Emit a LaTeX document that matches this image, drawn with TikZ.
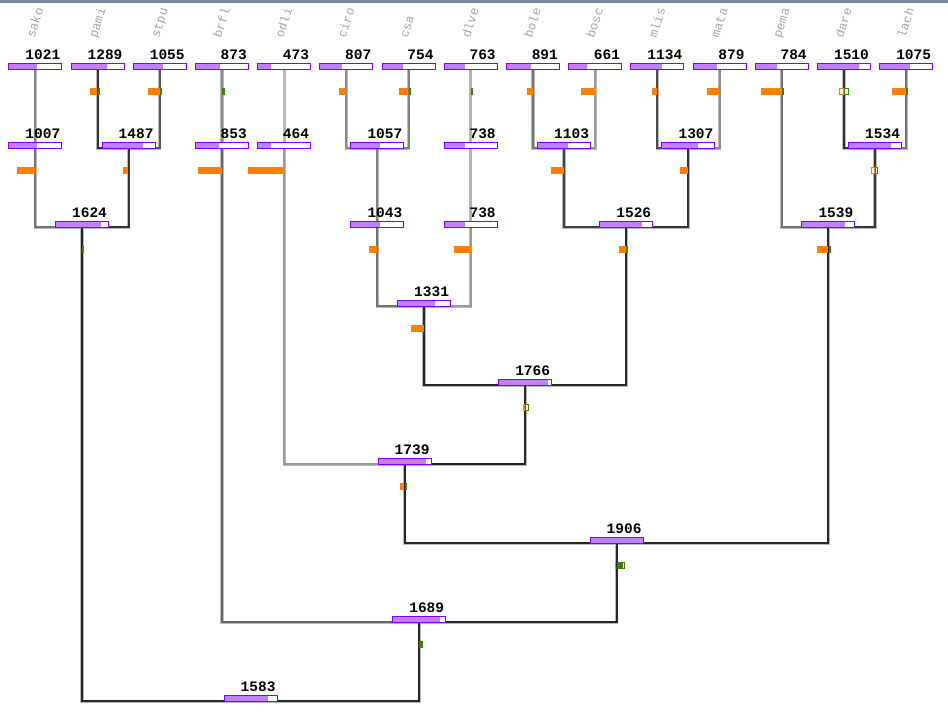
\documentclass[tikz,border=0pt]{standalone}
\usepackage{fontspec}
\newfontfamily\numfont{Liberation Mono}
\usetikzlibrary{backgrounds}

\definecolor{boxline}{RGB}{128,0,255}
\definecolor{boxfill}{RGB}{192,128,255}
\definecolor{orangebar}{RGB}{255,128,0}
\definecolor{greenbar}{RGB}{64,128,0}
\definecolor{topbar}{RGB}{122,134,150}
\definecolor{leaftext}{RGB}{165,165,165}

\begin{document}
\begin{tikzpicture}[x=1pt, y=-1pt,
  box/.style={rectangle, draw=boxline, fill=white, line width=0.9pt, minimum width=53pt, minimum height=6.2pt, inner sep=0pt},
  score/.style={label={[num]north east:#1}, path picture={\fill[boxfill] (path picture bounding box.south west) rectangle ([xshift=#1/1906*53pt]path picture bounding box.north west);}},
  num/.style={anchor=south east, inner sep=0pt, xshift=-1.8pt, yshift=3pt, font=\numfont\bfseries\fontsize{14.5}{15}\selectfont},
  leaf/.style={rotate=72, anchor=base west, inner sep=0pt, text=leaftext, font=\numfont\fontsize{12.5}{12.5}\selectfont},
  obar/.style={rectangle, fill=orangebar, inner sep=0pt, minimum height=6.8pt, minimum width=#1, anchor=east},
  gbar/.style={rectangle, fill=greenbar, inner sep=0pt, minimum height=6.8pt, minimum width=#1, anchor=west},
  obarh/.style={obar=#1, fill=white, draw=orangebar, line width=0.8pt, minimum height=6pt},
  gbarh/.style={gbar=#1, fill=white, draw=greenbar, line width=0.8pt, minimum height=6pt},
  branch/.style={draw=black!28, double=#1, double distance=2pt, line width=0.6pt}
]
\useasboundingbox (0,0) rectangle (948,724);
\fill[topbar] (0,0) rectangle (948,2.5);

% leaf names
\node[leaf] (t-sako) at (34.3,38.5) {sako};
\node[leaf] (t-pami) at (96.5,38.5) {pami};
\node[leaf] (t-stpu) at (158.7,38.5) {stpu};
\node[leaf] (t-brfl) at (220.9,38.5) {brfl};
\node[leaf] (t-odli) at (283.1,38.5) {odli};
\node[leaf] (t-ciro) at (345.3,38.5) {ciro};
\node[leaf] (t-csa) at (407.5,38.5) {csa};
\node[leaf] (t-dlve) at (469.7,38.5) {dlve};
\node[leaf] (t-bole) at (531.9,38.5) {bole};
\node[leaf] (t-bosc) at (594.1,38.5) {bosc};
\node[leaf] (t-mlis) at (656.3,38.5) {mlis};
\node[leaf] (t-mata) at (718.5,38.5) {mata};
\node[leaf] (t-pema) at (780.7,38.5) {pema};
\node[leaf] (t-dare) at (842.9,38.5) {dare};
\node[leaf] (t-lach) at (905.1,38.5) {lach};

% leaves
\node[box, score=1021] (sako) at (35.3,66.8) {};
\node[box, score=1289] (pami) at (97.5,66.8) {};
\node[box, score=1055] (stpu) at (159.7,66.8) {};
\node[box, score=873] (brfl) at (221.9,66.8) {};
\node[box, score=473] (odli) at (284.1,66.8) {};
\node[box, score=807] (ciro) at (346.3,66.8) {};
\node[box, score=754] (csa) at (408.5,66.8) {};
\node[box, score=763] (dlve) at (470.7,66.8) {};
\node[box, score=891] (bole) at (532.9,66.8) {};
\node[box, score=661] (bosc) at (595.1,66.8) {};
\node[box, score=1134] (mlis) at (657.3,66.8) {};
\node[box, score=879] (mata) at (719.5,66.8) {};
\node[box, score=784] (pema) at (781.7,66.8) {};
\node[box, score=1510] (dare) at (843.9,66.8) {};
\node[box, score=1075] (lach) at (906.1,66.8) {};

% first merge level
\node[box, score=1007] (n1007) at (35.3,145.8) {};
\node[box, score=1487] (n1487) at (128.6,145.8) {};
\node[box, score=853] (n853) at (221.9,145.8) {};
\node[box, score=464] (n464) at (284.1,145.8) {};
\node[box, score=1057] (n1057) at (377.4,145.8) {};
\node[box, score=738] (n738a) at (470.7,145.8) {};
\node[box, score=1103] (n1103) at (564,145.8) {};
\node[box, score=1307] (n1307) at (688.4,145.8) {};
\node[box, score=1534] (n1534) at (875,145.8) {};

% second merge level
\node[box, score=1624] (n1624) at (82,224.8) {};
\node[box, score=1043] (n1043) at (377.4,224.8) {};
\node[box, score=738] (n738b) at (470.7,224.8) {};
\node[box, score=1526] (n1526) at (626.2,224.8) {};
\node[box, score=1539] (n1539) at (828.35,224.8) {};

% deeper levels
\node[box, score=1331] (n1331) at (424.05,303.8) {};
\node[box, score=1766] (n1766) at (525.1,382.8) {};
\node[box, score=1739] (n1739) at (404.6,461.8) {};
\node[box, score=1906] (n1906) at (616.5,540.8) {};
\node[box, score=1689] (n1689) at (419.2,619.8) {};
\node[box, score=1583] (n1583) at (250.6,698.8) {};

% support marks on the branches
\node[obar=7pt] (o-pami) at ([yshift=-25pt]pami.center) {};
\node[gbar=2.3pt] (g-pami) at ([yshift=-25pt]pami.center) {};
\node[obar=12pt] (o-stpu) at ([yshift=-25pt]stpu.center) {};
\node[gbar=2pt] (g-stpu) at ([yshift=-25pt]stpu.center) {};
\node[gbar=2.5pt] (g-brfl) at ([yshift=-25pt]brfl.center) {};
\node[obar=7.5pt] (o-ciro) at ([yshift=-25pt]ciro.center) {};
\node[obar=9pt] (o-csa) at ([yshift=-25pt]csa.center) {};
\node[gbar=2pt] (g-csa) at ([yshift=-25pt]csa.center) {};
\node[gbar=2pt] (g-dlve) at ([yshift=-25pt]dlve.center) {};
\node[obar=6pt] (o-bole) at ([yshift=-25pt]bole.center) {};
\node[obar=13.5pt] (o-bosc) at ([yshift=-25pt]bosc.center) {};
\node[obar=5.5pt] (o-mlis) at ([yshift=-25pt]mlis.center) {};
\node[obar=12.5pt] (o-mata) at ([yshift=-25pt]mata.center) {};
\node[obar=20.5pt] (o-pema) at ([yshift=-25pt]pema.center) {};
\node[gbar=2pt] (g-pema) at ([yshift=-25pt]pema.center) {};
\node[obarh=4.2pt] (o-dare) at ([yshift=-25pt]dare.center) {};
\node[gbarh=4.2pt] (g-dare) at ([yshift=-25pt]dare.center) {};
\node[obar=14pt] (o-lach) at ([yshift=-25pt]lach.center) {};
\node[gbar=2pt] (g-lach) at ([yshift=-25pt]lach.center) {};

\node[obar=18pt] (o-n1007) at ([yshift=-25pt]n1007.center) {};
\node[obar=5pt] (o-n1487) at ([yshift=-25pt]n1487.center) {};
\node[obar=24pt] (o-n853) at ([yshift=-25pt]n853.center) {};
\node[obar=36pt] (o-n464) at ([yshift=-25pt]n464.center) {};
\node[obar=13pt] (o-n1103) at ([yshift=-25pt]n1103.center) {};
\node[obar=8pt] (o-n1307) at ([yshift=-25pt]n1307.center) {};
\node[obarh=3.2pt] (o-n1534) at ([yshift=-25pt]n1534.center) {};
\node[gbarh=2.4pt] (g-n1534) at ([yshift=-25pt]n1534.center) {};

\node[gbar=2pt] (g-n1624) at ([yshift=-25pt]n1624.center) {};
\node[obar=8.5pt] (o-n1043) at ([yshift=-25pt]n1043.center) {};
\node[obar=17pt] (o-n738b) at ([yshift=-25pt]n738b.center) {};
\node[obar=7pt] (o-n1526) at ([yshift=-25pt]n1526.center) {};
\node[gbar=1.5pt] (g-n1526) at ([yshift=-25pt]n1526.center) {};
\node[obar=11pt] (o-n1539) at ([yshift=-25pt]n1539.center) {};
\node[gbar=2pt] (g-n1539) at ([yshift=-25pt]n1539.center) {};

\node[obar=13pt] (o-n1331) at ([yshift=-25pt]n1331.center) {};
\node[obar=1.5pt] (o-n1766) at ([yshift=-25pt]n1766.center) {};
\node[gbarh=2.4pt] (g-n1766) at ([yshift=-25pt]n1766.center) {};
\node[obar=4.5pt] (o-n1739) at ([yshift=-25pt]n1739.center) {};
\node[gbar=2.5pt] (g-n1739) at ([yshift=-25pt]n1739.center) {};
\node[obar=1pt] (o-n1906) at ([yshift=-25pt]n1906.center) {};
\node[gbarh=7.2pt] (h-n1906) at ([yshift=-25pt]n1906.center) {};
\node[gbar=6pt] (g-n1906) at ([yshift=-25pt]n1906.center) {};
\node[gbar=4pt] (g-n1689) at ([yshift=-25pt]n1689.center) {};

% branches
\begin{scope}[on background layer]
\draw[branch=black!47] (sako.south) |- ([yshift=1pt]n1007.south);
\draw[branch=black!80] (pami.south) |- ([yshift=1pt]n1487.south);
\draw[branch=black!65] (stpu.south) |- ([yshift=1pt]n1487.south);
\draw[branch=black!45] (brfl.south) |- ([yshift=1pt]n853.south);
\draw[branch=black!27] (odli.south) |- ([yshift=1pt]n464.south);
\draw[branch=black!45] (ciro.south) |- ([yshift=1pt]n1057.south);
\draw[branch=black!50] (csa.south) |- ([yshift=1pt]n1057.south);
\draw[branch=black!30] (dlve.south) |- ([yshift=1pt]n738a.south);
\draw[branch=black!55] (bole.south) |- ([yshift=1pt]n1103.south);
\draw[branch=black!40] (bosc.south) |- ([yshift=1pt]n1103.south);
\draw[branch=black!70] (mlis.south) |- ([yshift=1pt]n1307.south);
\draw[branch=black!45] (mata.south) |- ([yshift=1pt]n1307.south);
\draw[branch=black!55] (pema.south) |- ([yshift=1pt]n1539.south);
\draw[branch=black!80] (dare.south) |- ([yshift=1pt]n1534.south);
\draw[branch=black!55] (lach.south) |- ([yshift=1pt]n1534.south);

\draw[branch=black!55] (n1007.south) |- ([yshift=1pt]n1624.south);
\draw[branch=black!80] (n1487.south) |- ([yshift=1pt]n1624.south);
\draw[branch=black!60] (n853.south) |- ([yshift=1pt]n1689.south);
\draw[branch=black!40] (n464.south) |- ([yshift=1pt]n1739.south);
\draw[branch=black!50] (n1057.south) |- ([yshift=1pt]n1043.south);
\draw[branch=black!30] (n738a.south) |- ([yshift=1pt]n738b.south);
\draw[branch=black!75] (n1103.south) |- ([yshift=1pt]n1526.south);
\draw[branch=black!80] (n1307.south) |- ([yshift=1pt]n1526.south);
\draw[branch=black!80] (n1534.south) |- ([yshift=1pt]n1539.south);

\draw[branch=black!85] (n1624.south) |- ([yshift=1pt]n1583.south);
\draw[branch=black!55] (n1043.south) |- ([yshift=1pt]n1331.south);
\draw[branch=black!40] (n738b.south) |- ([yshift=1pt]n1331.south);
\draw[branch=black!85] (n1526.south) |- ([yshift=1pt]n1766.south);
\draw[branch=black!85] (n1539.south) |- ([yshift=1pt]n1906.south);
\draw[branch=black!85] (n1331.south) |- ([yshift=1pt]n1766.south);
\draw[branch=black!85] (n1766.south) |- ([yshift=1pt]n1739.south);
\draw[branch=black!85] (n1739.south) |- ([yshift=1pt]n1906.south);
\draw[branch=black!85] (n1906.south) |- ([yshift=1pt]n1689.south);
\draw[branch=black!85] (n1689.south) |- ([yshift=1pt]n1583.south);
\end{scope}
\end{tikzpicture}
\end{document}
